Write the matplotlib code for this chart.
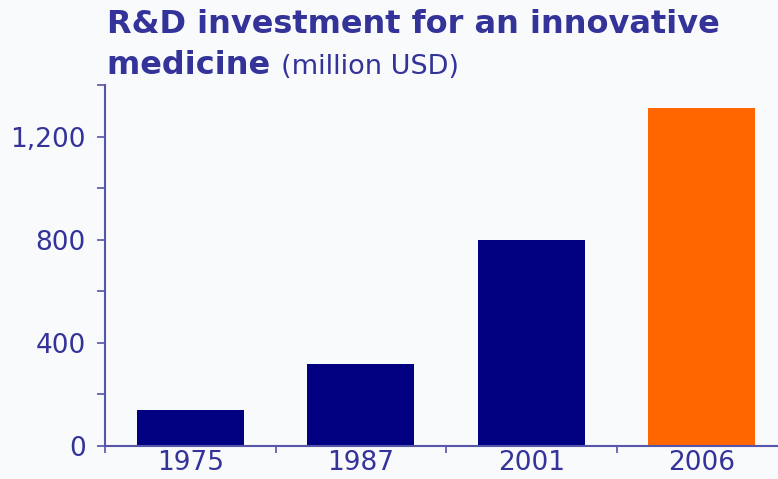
import numpy as np
import matplotlib.pyplot as plt
from matplotlib.ticker import MultipleLocator, FuncFormatter

# data
years = ["1975", "1987", "2001", "2006"]
investment = [139, 317, 800, 1311]
bar_colors = ["#000080", "#000080", "#000080", "#FF6600"]

TEXT = "#333399"
AXIS = "#5555AA"
BG = "#F9FAFC"

fig = plt.figure(figsize=(7.78, 4.79), dpi=100, facecolor=BG)
W, H = 778, 479
ax = fig.add_axes([105 / W, 33 / H, (W - 105) / W, (446 - 85) / H])
ax.set_facecolor(BG)

x = np.arange(len(years))
ax.bar(x, investment, width=0.63, color=bar_colors, zorder=2)

ax.set_ylim(0, 1400)
ax.set_xlim(-0.5, 3.447)

# y axis: every 200 a tick, labels every 400
ax.yaxis.set_major_locator(MultipleLocator(400))
ax.yaxis.set_minor_locator(MultipleLocator(200))
ax.yaxis.set_major_formatter(FuncFormatter(lambda v, p: f"{int(v):,}"))
ax.tick_params(axis="y", which="both", direction="out", length=6, width=1.2,
               color=AXIS, labelcolor=TEXT, labelsize=19, pad=8)

# x axis: ticks on category boundaries, labels under bars
ax.set_xticks(x - 0.5)
ax.set_xticklabels([])
ax.set_xticks(x, minor=True)
ax.set_xticklabels(years, minor=True)
ax.tick_params(axis="x", which="major", direction="out", length=5, width=1.2, color=AXIS)
ax.tick_params(axis="x", which="minor", length=0, labelcolor=TEXT, labelsize=19, pad=3)

for s in ["top", "right"]:
    ax.spines[s].set_visible(False)
for s in ["left", "bottom"]:
    ax.spines[s].set_color(AXIS)
    ax.spines[s].set_linewidth(1.5)

# two-line title, mixed weights
fig.text(107 / W, 1 - 33 / H, "R&D investment for an innovative", color=TEXT,
         fontsize=23, fontweight="bold", ha="left", va="baseline")
t = fig.text(107 / W, 1 - 74 / H, "medicine ", color=TEXT,
             fontsize=23, fontweight="bold", ha="left", va="baseline")
fig.canvas.draw()
bb = t.get_window_extent()
fig.text(bb.x1 / W, 1 - 74 / H, "(million USD)", color=TEXT,
         fontsize=19.5, ha="left", va="baseline")

fig.savefig("out.png", dpi=100, facecolor=BG)
